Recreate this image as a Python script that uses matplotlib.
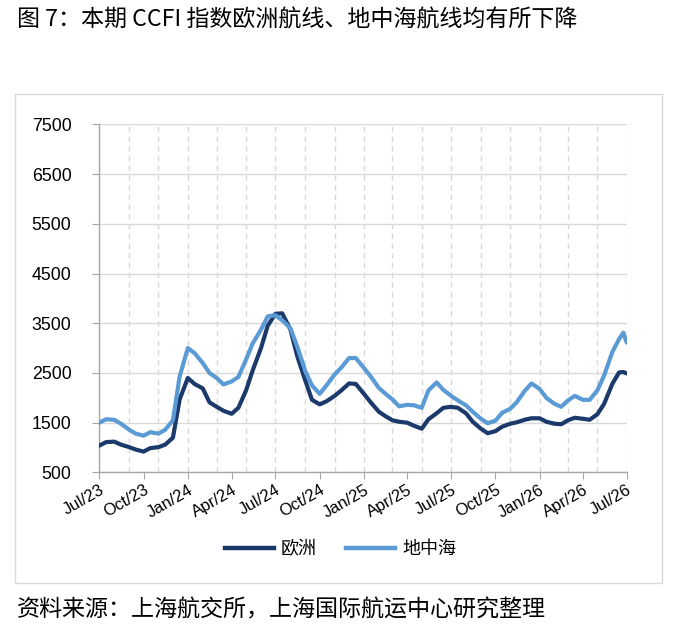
import matplotlib
matplotlib.use('Agg')
import matplotlib.pyplot as plt
import matplotlib.dates as mdates
from matplotlib.patches import Rectangle
from matplotlib.lines import Line2D
import pandas as pd

# 半月度数据 (CCFI 欧洲 / 地中海航线)
fechas = list(pd.date_range('2023-07-01', '2026-06-15', freq='SMS')) + \
    [pd.Timestamp('2026-06-24'), pd.Timestamp('2026-07-01')]

europa = [1040, 1110, 1120, 1060, 1010, 960, 920, 990, 1010, 1060,
          1200, 1970, 2400, 2280, 2190, 1910, 1820, 1740, 1680, 1800,
          2150, 2560, 3000, 3450, 3690, 3700, 3380, 2850, 2350, 1960,
          1870, 1930, 2040, 2150, 2290, 2280, 2080, 1910, 1720, 1630,
          1550, 1520, 1500, 1440, 1380, 1570, 1690, 1800, 1820, 1800,
          1690, 1520, 1380, 1290, 1330, 1420, 1480, 1510, 1560, 1590,
          1590, 1520, 1480, 1470, 1550, 1600, 1580, 1560, 1670, 1880,
          2280, 2510, 2520, 2490]

mediterraneo = [1500, 1570, 1560, 1480, 1360, 1280, 1240, 1310, 1280, 1360,
                1550, 2430, 3000, 2900, 2700, 2500, 2400, 2270, 2330, 2420,
                2770, 3100, 3370, 3640, 3660, 3560, 3400, 3040, 2540, 2250,
                2080, 2250, 2470, 2610, 2800, 2800, 2600, 2430, 2200, 2080,
                1970, 1830, 1860, 1850, 1800, 2150, 2310, 2160, 2040, 1950,
                1850, 1720, 1580, 1490, 1540, 1700, 1780, 1920, 2140, 2290,
                2180, 2000, 1880, 1820, 1950, 2040, 1960, 1960, 2150, 2450,
                2920, 3180, 3310, 3110]

y_ticks = [500, 1500, 2500, 3500, 4500, 5500, 6500, 7500]

color_europa = '#1b3a6b'
color_med = '#5b9bd5'
gris = '#d9d9d9'
cjk = ['Noto Sans CJK SC', 'DejaVu Sans']
num_font = 'Liberation Sans'

fig = plt.figure(figsize=(6.81, 6.36), dpi=100)

# Marco del gráfico
fig.patches.append(Rectangle((0.022, 0.0838), 0.9496, 0.768, transform=fig.transFigure,
                             fill=False, edgecolor=gris, linewidth=1.0))

ax = fig.add_axes([0.1458, 0.2571, 0.7745, 0.5475])
ax.plot(fechas, europa, color=color_europa, linewidth=3.0, solid_capstyle='round', zorder=3)
ax.plot(fechas, mediterraneo, color=color_med, linewidth=3.0, solid_capstyle='round', zorder=3)

ax.set_xlim(pd.Timestamp('2023-07-01'), pd.Timestamp('2026-07-01'))
ax.set_ylim(500, 7500)
ax.set_yticks(y_ticks)
ax.yaxis.grid(True, color=gris, linewidth=1.0)

ax.xaxis.set_major_locator(mdates.MonthLocator(bymonth=[1, 4, 7, 10]))
ax.xaxis.set_major_formatter(mdates.DateFormatter('%b/%y'))
ax.xaxis.set_minor_locator(mdates.MonthLocator(bymonth=[1, 3, 5, 7, 9, 11]))
ax.xaxis.remove_overlapping_locs = False
ax.xaxis.grid(True, which='minor', color=gris, linestyle=(0, (4, 3)), linewidth=1.0)
ax.set_axisbelow(True)

for s in ['top', 'right']:
    ax.spines[s].set_visible(False)
for s in ['left', 'bottom']:
    ax.spines[s].set_color('#a6a6a6')
    ax.spines[s].set_linewidth(1.0)

ax.tick_params(axis='y', length=5, color='#a6a6a6', labelsize=12.8, pad=15)
ax.tick_params(axis='x', which='major', length=5, color='#a6a6a6', labelsize=12, pad=2)
ax.tick_params(axis='x', which='minor', length=0)
for lbl in ax.get_yticklabels():
    lbl.set_fontfamily(num_font)
for lbl in ax.get_xticklabels():
    lbl.set_fontfamily(num_font)
    lbl.set_rotation(30)
    lbl.set_ha('right')
    lbl.set_rotation_mode('anchor')

# Leyenda
handles = [Line2D([], [], color=color_europa, linewidth=3.2),
           Line2D([], [], color=color_med, linewidth=3.2)]
fig.legend(handles, ['欧洲', '地中海'], loc='center', bbox_to_anchor=(0.5, 0.137),
           ncol=2, frameon=False, handlelength=2.7, columnspacing=1.6, handletextpad=0.4,
           prop={'family': cjk, 'size': 13})

fig.text(0.025, 0.968, '图 7：本期 CCFI 指数欧洲航线、地中海航线均有所下降',
         family=cjk, fontsize=16.6, va='center', ha='left')
fig.text(0.025, 0.041, '资料来源：上海航交所，上海国际航运中心研究整理',
         family=cjk, fontsize=16.6, va='center', ha='left')

fig.savefig('out.png', dpi=100, facecolor='white')
